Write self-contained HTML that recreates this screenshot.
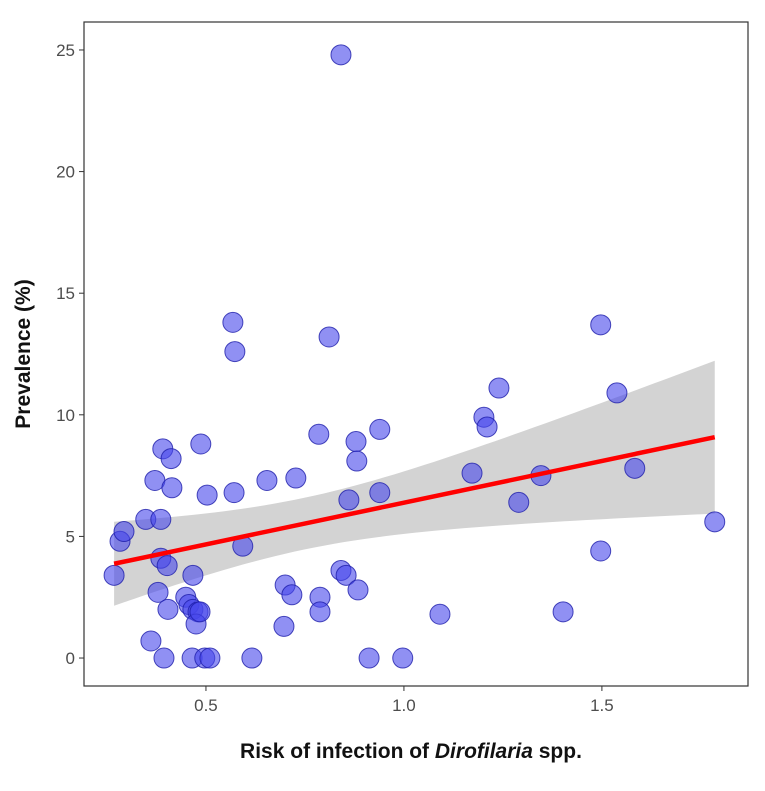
<!DOCTYPE html>
<html><head><meta charset="utf-8"><style>
body{margin:0;background:#fff;}
svg text{font-family:"Liberation Sans",sans-serif;}
</style></head><body>
<svg id="chart" width="765" height="786" xmlns="http://www.w3.org/2000/svg"></svg>
<script>
const xVals=[0.268,0.283,0.293,0.348,0.386,0.371,0.391,0.412,0.414,0.361,0.379,0.386,0.402,0.404,0.394,0.467,0.449,0.457,0.467,0.480,0.475,0.485,0.465,0.497,0.510,0.487,0.503,0.568,0.573,0.571,0.593,0.616,0.654,0.700,0.717,0.697,0.727,0.785,0.788,0.788,0.811,0.841,0.841,0.854,0.861,0.879,0.881,0.884,0.912,0.939,0.939,0.997,1.091,1.172,1.202,1.210,1.240,1.290,1.346,1.402,1.497,1.497,1.538,1.583,1.785];
const yVals=[3.4,4.8,5.2,5.7,5.7,7.3,8.6,8.2,7.0,0.7,2.7,4.1,3.8,2.0,0,3.4,2.5,2.2,2.0,1.9,1.4,1.9,0,0,0,8.8,6.7,13.8,12.6,6.8,4.6,0,7.3,3.0,2.6,1.3,7.4,9.2,2.5,1.9,13.2,24.8,3.6,3.4,6.5,8.9,8.1,2.8,0,9.4,6.8,0,1.8,7.6,9.9,9.5,11.1,6.4,7.5,1.9,13.7,4.4,10.9,7.8,5.6];
const xTicks=[0.5,1.0,1.5];
const xTickLabels=["0.5","1.0","1.5"];
const yTicks=[0,5,10,15,20,25];
const yTickLabels=["0","5","10","15","20","25"];

const L=84,R=748,T=22,B=686;
const xMin=0.192,xMax=1.869,yMin=-1.15,yMax=26.15;
const sx=v=>L+(v-xMin)/(xMax-xMin)*(R-L);
const sy=v=>B-(v-yMin)/(yMax-yMin)*(B-T);
const svg=document.getElementById('chart');
const NS='http://www.w3.org/2000/svg';
function mk(tag,attrs,parent){const e=document.createElementNS(NS,tag);for(const k in attrs)e.setAttribute(k,attrs[k]);(parent||svg).appendChild(e);return e;}

// regression
const n=xVals.length;
const mx=xVals.reduce((a,b)=>a+b)/n, my=yVals.reduce((a,b)=>a+b)/n;
let sxx=0,sxy=0;for(let i=0;i<n;i++){sxx+=(xVals[i]-mx)**2;sxy+=(xVals[i]-mx)*(yVals[i]-my);}
const b1=sxy/sxx,b0=my-b1*mx;
let sse=0;for(let i=0;i<n;i++)sse+=(yVals[i]-b0-b1*xVals[i])**2;
const s=Math.sqrt(sse/(n-2)),tq=2.0;
const x0=Math.min(...xVals),x1=Math.max(...xVals);
let up=[],lo=[];
for(let k=0;k<=60;k++){const x=x0+(x1-x0)*k/60;const f=b0+b1*x;const se=s*Math.sqrt(1/n+(x-mx)**2/sxx);up.push([sx(x),sy(f+tq*se)]);lo.push([sx(x),sy(f-tq*se)]);}
const band=mk('polygon',{points:up.concat(lo.reverse()).map(p=>p.join(',')).join(' '),fill:'#d3d3d3'});



// points
xVals.forEach((x,i)=>{
 const c=mk('circle',{cx:sx(x),cy:sy(yVals[i]),r:10,fill:'rgba(70,70,235,0.6)',stroke:'rgba(30,30,170,0.8)','stroke-width':1});
 
 
});

const ln=mk('line',{x1:sx(x0),y1:sy(b0+b1*x0),x2:sx(x1),y2:sy(b0+b1*x1),stroke:'#f00','stroke-width':4.5});



const frame=mk('rect',{x:L,y:T,width:R-L,height:B-T,fill:'none',stroke:'#333','stroke-width':1.2});



xTicks.forEach((v,i)=>{
 mk('line',{x1:sx(v),x2:sx(v),y1:B,y2:B+5,stroke:'#333'});
 const t=mk('text',{x:sx(v),y:B+25,'text-anchor':'middle','font-size':17,fill:'#4d4d4d'});t.textContent=xTickLabels[i];
 
 
});
yTicks.forEach((v,i)=>{
 mk('line',{x1:L-5,x2:L,y1:sy(v),y2:sy(v),stroke:'#333'});
 const t=mk('text',{x:L-9,y:sy(v)+6,'text-anchor':'end','font-size':17,fill:'#4d4d4d'});t.textContent=yTickLabels[i];
 
 
});
const xt=mk('text',{x:411,y:758,'text-anchor':'middle','font-size':21,'font-weight':'bold',fill:'#111'});
xt.innerHTML='Risk of infection of <tspan font-style="italic">Dirofilaria</tspan> spp.';


const yt=mk('text',{x:0,y:0,transform:'translate(30,354) rotate(-90)','text-anchor':'middle','font-size':21,'font-weight':'bold',fill:'#111'});
yt.textContent='Prevalence (%)';


</script>
</body></html>
